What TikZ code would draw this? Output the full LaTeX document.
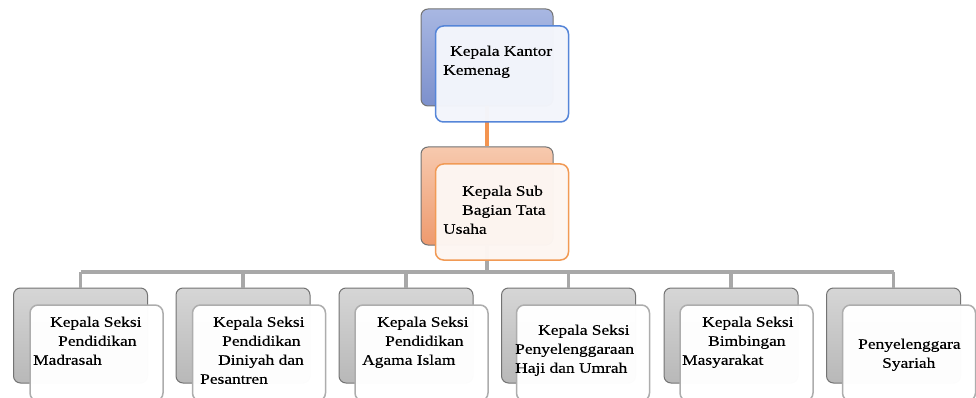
\documentclass[tikz,border=0pt]{standalone}
\usepackage{fontspec}
\setmainfont{Liberation Serif}[FakeStretch=1.2,FakeBold=0.4]
\definecolor{blueA}{HTML}{A8B7E2}
\definecolor{blueB}{HTML}{7C90CC}
\definecolor{blueE}{HTML}{5585D8}
\definecolor{blueF}{HTML}{F3F5FB}
\definecolor{orA}{HTML}{F7C9AE}
\definecolor{orB}{HTML}{EE9A6E}
\definecolor{orE}{HTML}{F19A55}
\definecolor{orF}{HTML}{FDF6F2}
\definecolor{orL}{HTML}{F39450}
\definecolor{grA}{HTML}{D6D6D6}
\definecolor{grB}{HTML}{B8B8B8}
\definecolor{grE}{HTML}{ADADAD}
\definecolor{grL}{HTML}{A8A8A8}
\begin{document}
\begin{tikzpicture}[x=1pt,y=-1pt,
  back/.style={draw=black!55, line width=1pt, rounded corners=7pt, inner sep=0pt},
  front/.style={line width=1.5pt, rounded corners=8pt, inner sep=0pt, fill opacity=0.98, minimum width=133pt, minimum height=96pt},
  blueback/.style={back, top color=blueA, bottom color=blueB, minimum width=132pt, minimum height=97pt},
  bluefront/.style={front, draw=blueE, fill=blueF},
  orback/.style={back, top color=orA, bottom color=orB, minimum width=132pt, minimum height=98pt},
  orfront/.style={front, draw=orE, fill=orF},
  grback/.style={back, top color=grA, bottom color=grB, minimum width=134pt, minimum height=95pt},
  grfront/.style={front, draw=grE, fill=white},
  orline/.style={draw=orL, line width=3.5pt},
  grline/.style={draw=grL, line width=3.2pt},
  lbl/.style={anchor=north west, inner sep=0pt, align=left, text=black,
    font=\fontsize{14.5}{19}\selectfont}
]
\useasboundingbox (0,0) rectangle (976,398);
\clip (0,0) rectangle (976,398);
\coordinate (bus) at (0,272);

% back boxes
\node[blueback] (k1b) at (487,57.5) {};
\node[orback] (k2b) at (487,196) {};
\node[grback] (b1b) at (80.5,335.5) {};
\node[grback] (b2b) at (243,335.5) {};
\node[grback] (b3b) at (406,335.5) {};
\node[grback] (b4b) at (568.5,335.5) {};
\node[grback] (b5b) at (731,335.5) {};
\node[grback] (b6b) at (893.5,335.5) {};

% connectors
\draw[orline] (k1b.south) -- (k2b.north);
\draw[grline] (k2b.south) -- (k2b.south |- bus);
\draw[grline] (b1b.north |- bus) -- (b6b.north |- bus);
\foreach \b in {b1b,b2b,b3b,b4b,b5b,b6b}
  \draw[grline] (\b.north) -- (\b.north |- bus);

% front boxes
\node[bluefront] (k1f) at (502,74) {};
\node[orfront] (k2f) at (502,212) {};
\node[grfront] (b1f) at (96.5,353) {};
\node[grfront] (b2f) at (259,353) {};
\node[grfront] (b3f) at (421.5,353) {};
\node[grfront] (b4f) at (583,353) {};
\node[grfront] (b5f) at (746.5,353) {};
\node[grfront] (b6f) at (909,353) {};

% labels
\node[lbl] (k1t) at (443,45.5) {\hspace*{7pt}Kepala Kantor\\Kemenag};
\node[lbl] (k2t) at (443,185.5) {\hspace*{19pt}Kepala Sub\\\hspace*{19pt}Bagian Tata\\Usaha};
\node[lbl] (b1t) at (33,316.5) {\hspace*{17pt}Kepala Seksi\\\hspace*{25pt}Pendidikan\\Madrasah};
\node[lbl] (b2t) at (200,316.5) {\hspace*{13pt}Kepala Seksi\\\hspace*{22pt}Pendidikan\\\hspace*{18pt}Diniyah dan\\Pesantren};
\node[lbl] (b3t) at (362,316.5) {\hspace*{15pt}Kepala Seksi\\\hspace*{23pt}Pendidikan\\Agama Islam};
\node[lbl] (b4t) at (515,324.5) {\hspace*{23pt}Kepala Seksi\\Penyelenggaraan\\Haji dan Umrah};
\node[lbl] (b5t) at (682,316.5) {\hspace*{20pt}Kepala Seksi\\\hspace*{26pt}Bimbingan\\Masyarakat};
\node[lbl] (b6t) at (858,338.5) {Penyelenggara\\\hspace*{24pt}Syariah};
\end{tikzpicture}
\end{document}
